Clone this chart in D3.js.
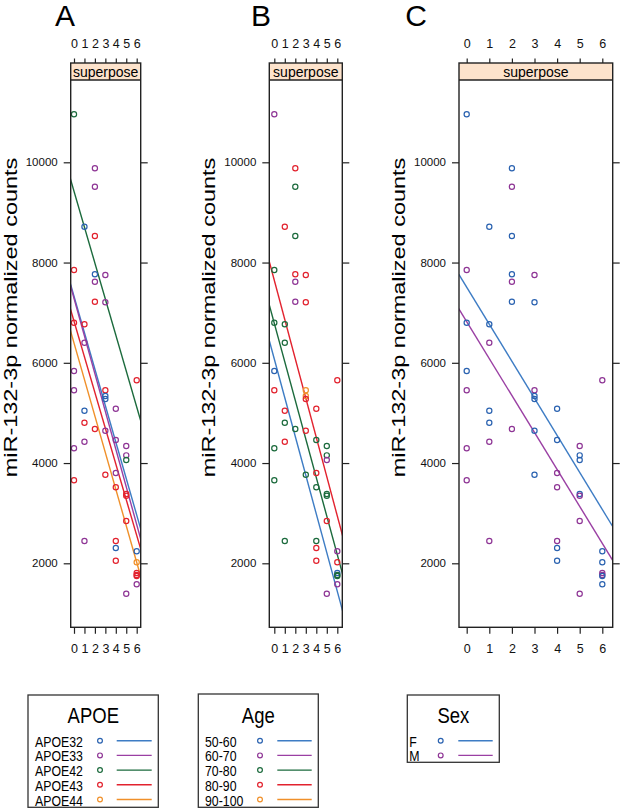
<!DOCTYPE html>
<html><head><meta charset="utf-8">
<script src="https://cdn.jsdelivr.net/npm/d3@7"></script>
<style>
html,body{margin:0;padding:0;background:#fff;}
svg{display:block;font-family:"Liberation Sans",Arial,sans-serif;}
</style></head>
<body>
<svg id="chart" width="623" height="812"></svg>
<script>
// ---- data ----
const stage = [0,2,2,1,2,0,2,3,2,2,3,0,1,1,0,0,3,3,3,1,4,1,2,3,1,4,0,5,5,5,3,4,0,4,5,5,6,5,1,4,4,6,4,6,6,6,6,6,5];
const counts = [10958,9880,9513,8715,8530,7851,7766,7752,7618,7219,7207,6800,6768,6401,5836,5451,5451,5337,5278,5044,5084,4805,4679,4645,4426,4460,4294,4340,4154,4061,3768,3801,3656,3516,3383,3349,5651,2844,2445,2445,2305,2239,2052,2020,1806,1766,1747,1581,1394];
const apoe = ["APOE42","APOE33","APOE33","APOE32","APOE43","APOE43","APOE32","APOE33","APOE33","APOE43","APOE33","APOE43","APOE43","APOE33","APOE33","APOE33","APOE43","APOE32","APOE32","APOE32","APOE33","APOE43","APOE43","APOE33","APOE33","APOE33","APOE33","APOE33","APOE33","APOE42","APOE43","APOE33","APOE43","APOE43","APOE43","APOE43","APOE43","APOE43","APOE33","APOE43","APOE32","APOE32","APOE43","APOE44","APOE43","APOE43","APOE43","APOE33","APOE33"];
const age = ["60-70","80-90","70-80","80-90","70-80","70-80","80-90","80-90","60-70","60-70","80-90","70-80","70-80","70-80","50-60","80-90","90-100","90-100","80-90","80-90","80-90","70-80","70-80","80-90","80-90","70-80","70-80","70-80","70-80","60-70","70-80","80-90","70-80","70-80","70-80","70-80","80-90","80-90","70-80","70-80","80-90","60-70","80-90","80-90","50-60","70-80","70-80","60-70","60-70"];
const sex = ["F","F","M","F","F","M","F","M","M","F","F","F","F","M","F","M","M","F","F","F","F","F","M","F","M","F","M","M","F","F","F","M","M","M","F","M","M","M","M","M","F","F","F","F","M","M","F","F","M"];

const apoeLevels = ["APOE32","APOE33","APOE42","APOE43","APOE44"];
const ageLevels = ["50-60","60-70","70-80","80-90","90-100"];
const sexLevels = ["F","M"];

// fitted lines: value at stage 0 and at stage 6
const apoeLineGroups = ["APOE32","APOE33","APOE42","APOE43","APOE44"];
const apoeLineAt0 = [7326,7287,9423,6831,6395];
const apoeLineAt6 = [2964,2774,5120,2557,2020];
const ageLineGroups = ["50-60","70-80","80-90"];
const ageLineAt0 = [6074,6786,7644];
const ageLineAt6 = [1439,2172,2944];
const sexLineGroups = ["F","M"];
const sexLineAt0 = [7508,6820];
const sexLineAt6 = [3074,2398];

const xTicks = [0,1,2,3,4,5,6];
const yTicks = [2000,4000,6000,8000,10000];
const panelLetters = ["A","B","C"];
const stripText = "superpose";
const yTitle = "miR-132-3p normalized counts";

// ---- styling ----
const palette = ["#2a62b0","#8e3595","#1b6a3c","#e2222e","#f0902a"];
const lineColors = ["#3d7cc4","#9a3fa3","#1b6a3c","#e2222e","#f0902a"];

const svg = d3.select("#chart");
const frameTop = 63, stripBottom = 80, frameBottom = 627.3;
const y = d3.scaleLinear().domain([2000,10000]).range([563.3,162.3]);

const panels = [
  {letter:0, left:70.7, right:140.7, x0:74, x6:136.7, groups:apoe, levels:apoeLevels,
   lg:apoeLineGroups, l0:apoeLineAt0, l6:apoeLineAt6, letterX:65},
  {letter:1, left:269.3, right:342.3, x0:274.3, x6:337.3, groups:age, levels:ageLevels,
   lg:ageLineGroups, l0:ageLineAt0, l6:ageLineAt6, letterX:261},
  {letter:2, left:459, right:612.7, x0:466.7, x6:602.3, groups:sex, levels:sexLevels,
   lg:sexLineGroups, l0:sexLineAt0, l6:sexLineAt6, letterX:416}
];

panels.forEach((p,pi)=>{
  const x = d3.scaleLinear().domain([0,6]).range([p.x0,p.x6]);
  const g = svg.append("g");
  const color = d3.scaleOrdinal().domain(p.levels).range(palette);
  const lcolor = d3.scaleOrdinal().domain(p.levels).range(lineColors);

  // letter
  g.append("text").attr("x",p.letterX).attr("y",25.5).attr("text-anchor","middle")
    .attr("font-size",30).text(panelLetters[p.letter]);

  // y title (image is slightly squeezed horizontally)
  g.append("text").attr("transform",`translate(${p.left-54},317.5) rotate(-90) scale(1,0.82)`)
    .attr("text-anchor","middle").attr("font-size",23.5).text(yTitle);

  // strip
  g.append("rect").attr("x",p.left).attr("y",frameTop).attr("width",p.right-p.left)
    .attr("height",stripBottom-frameTop).attr("fill","#fde3cc");
  g.append("text").attr("x",(p.left+p.right)/2).attr("y",76.5).attr("text-anchor","middle")
    .attr("font-size",14).text(stripText);

  // clip
  const cid = "clip"+pi;
  svg.append("clipPath").attr("id",cid).append("rect")
    .attr("x",p.left).attr("y",stripBottom).attr("width",p.right-p.left).attr("height",frameBottom-stripBottom);

  // lines
  const plot = g.append("g").attr("clip-path",`url(#${cid})`);
  p.lg.forEach((grp,i)=>{
    const ly = d3.scaleLinear().domain([0,6]).range([p.l0[i],p.l6[i]]);
    const xa = x.invert(p.left-2), xb = x.invert(p.right+2);
    plot.append("line").attr("x1",x(xa)).attr("x2",x(xb))
      .attr("y1",y(ly(xa))).attr("y2",y(ly(xb)))
      .attr("stroke",lcolor(grp)).attr("stroke-width",1.4);
  });

  // points
  plot.selectAll("circle").data(d3.range(counts.length)).join("circle")
    .attr("cx",i=>x(stage[i])).attr("cy",i=>y(counts[i])).attr("r",2.6)
    .attr("fill","none").attr("stroke",i=>color(p.groups[i])).attr("stroke-width",1.2);

  // axes
  const top = g.append("g").attr("transform",`translate(0,${frameTop})`)
    .call(d3.axisTop(x).tickValues(xTicks).tickSize(4.5).tickPadding(11).tickFormat(d3.format("d")));
  const bot = g.append("g").attr("transform",`translate(0,${frameBottom})`)
    .call(d3.axisBottom(x).tickValues(xTicks).tickSize(6.5).tickPadding(10).tickFormat(d3.format("d")));
  const lft = g.append("g").attr("transform",`translate(${p.left},0)`)
    .call(d3.axisLeft(y).tickValues(yTicks).tickSize(7).tickPadding(6).tickFormat(d3.format("d")));
  const rgt = g.append("g").attr("transform",`translate(${p.right},0)`)
    .call(d3.axisRight(y).tickValues(yTicks).tickSize(7).tickFormat(""));
  [top,bot,lft,rgt].forEach(a=>{
    a.select(".domain").remove();
    a.selectAll("line").attr("stroke","#222").attr("stroke-width",1.2);
    a.selectAll("text").attr("fill","#111").attr("font-family","Liberation Sans, Arial, sans-serif");
  });
  top.selectAll("text").attr("font-size",12.5);
  bot.selectAll("text").attr("font-size",12.5);
  lft.selectAll("text").attr("font-size",11.5);

  // frame
  g.append("rect").attr("x",p.left).attr("y",frameTop).attr("width",p.right-p.left)
    .attr("height",frameBottom-frameTop).attr("fill","none").attr("stroke","#222").attr("stroke-width",1.4);
  g.append("line").attr("x1",p.left).attr("x2",p.right).attr("y1",stripBottom).attr("y2",stripBottom)
    .attr("stroke","#222").attr("stroke-width",1.3);
});

// ---- legends ----
const legends = [
  {title:"APOE", levels:apoeLevels, x:28, w:130.3, y:695, h:112.3, tx:93.3, labelX:35, cx:100, lx1:116.7, lx2:151.7},
  {title:"Age", levels:ageLevels, x:198.3, w:120, y:694, h:113.3, tx:258.3, labelX:205, cx:260, lx1:277.3, lx2:311.7},
  {title:"Sex", levels:sexLevels, x:407.3, w:92, y:695, h:67.3, tx:453.3, labelX:409.3, cx:440.7, lx1:458.3, lx2:492.7}
];
legends.forEach(L=>{
  const g = svg.append("g");
  g.append("text").attr("transform",`translate(${L.tx},723) scale(0.86,1)`)
    .attr("text-anchor","middle").attr("font-size",21.5).text(L.title);
  L.levels.forEach((lv,i)=>{
    const cy = 741.7 + i*14.7;
    g.append("text").attr("transform",`translate(${L.labelX},${cy+5}) scale(0.88,1)`)
      .attr("font-size",14).text(lv);
    g.append("circle").attr("cx",L.cx).attr("cy",cy-1).attr("r",2.4).attr("fill","none")
      .attr("stroke",palette[i]).attr("stroke-width",1.2);
    g.append("line").attr("x1",L.lx1).attr("x2",L.lx2).attr("y1",cy-1).attr("y2",cy-1)
      .attr("stroke",lineColors[i]).attr("stroke-width",1.4);
  });
  // cover overflow below box
  g.append("rect").attr("x",L.x-2).attr("y",L.y+L.h+1).attr("width",L.w+4).attr("height",20).attr("fill","#fff");
  g.append("rect").attr("x",L.x).attr("y",L.y).attr("width",L.w).attr("height",L.h)
    .attr("fill","none").attr("stroke","#333").attr("stroke-width",1.3);
});
</script>
</body></html>
